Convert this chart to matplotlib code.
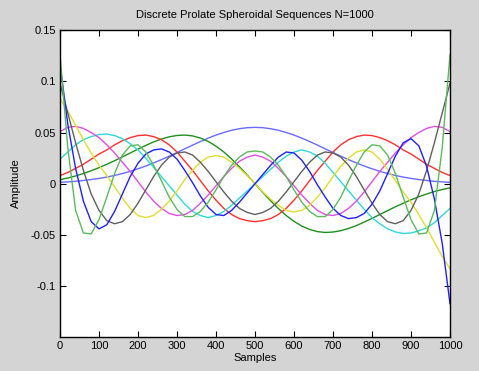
import matplotlib
matplotlib.use('Agg')
import matplotlib.pyplot as plt

# sample positions (every 20 samples, N=1000)
SAMPLES = list(range(0, 1001, 20))

# values, one list per sequence (k = 0..8)
SEQ0 = [0.0014, 0.0018, 0.0024, 0.0032, 0.0041, 0.0052, 0.0065, 0.0081, 0.0100, 0.0121, 0.0146, 0.0173, 0.0203,
        0.0235, 0.0269, 0.0305, 0.0341, 0.0377, 0.0412, 0.0445, 0.0475, 0.0500, 0.0522, 0.0537, 0.0547, 0.0550,
        0.0547, 0.0537, 0.0522, 0.0500, 0.0475, 0.0445, 0.0412, 0.0377, 0.0341, 0.0305, 0.0269, 0.0235, 0.0203,
        0.0173, 0.0146, 0.0121, 0.0100, 0.0081, 0.0065, 0.0052, 0.0041, 0.0032, 0.0024, 0.0018, 0.0014]
SEQ1 = [0.0040, 0.0056, 0.0076, 0.0100, 0.0127, 0.0157, 0.0190, 0.0225, 0.0262, 0.0300, 0.0338, 0.0374, 0.0408,
        0.0436, 0.0458, 0.0471, 0.0475, 0.0467, 0.0446, 0.0413, 0.0367, 0.0310, 0.0242, 0.0166, 0.0085, 0.0,
        -0.0085, -0.0166, -0.0242, -0.0310, -0.0367, -0.0413, -0.0446, -0.0467, -0.0475, -0.0471, -0.0458, -0.0436,
        -0.0408, -0.0374, -0.0338, -0.0300, -0.0262, -0.0225, -0.0190, -0.0157, -0.0127, -0.0100, -0.0076, -0.0056,
        -0.0040]
SEQ2 = [0.008, 0.011, 0.015, 0.019, 0.024, 0.029, 0.033, 0.038, 0.042, 0.045, 0.047, 0.0475, 0.046, 0.043, 0.038,
        0.031, 0.022, 0.013, 0.003, -0.007, -0.016, -0.024, -0.030, -0.034, -0.036, -0.037,
        -0.036, -0.034, -0.030, -0.024, -0.016, -0.007, 0.003, 0.013, 0.022, 0.031, 0.038, 0.043, 0.046, 0.0475,
        0.047, 0.045, 0.042, 0.038, 0.033, 0.029, 0.024, 0.019, 0.015, 0.011, 0.008]
SEQ3 = [0.024, 0.031, 0.038, 0.043, 0.046, 0.048, 0.0485, 0.047, 0.044, 0.039, 0.033, 0.025, 0.016, 0.007, -0.002,
        -0.011, -0.020, -0.027, -0.031, -0.033, -0.031, -0.027, -0.021, -0.014, -0.007, 0.0,
        0.007, 0.014, 0.021, 0.027, 0.031, 0.033, 0.031, 0.027, 0.020, 0.011, 0.002, -0.007, -0.016, -0.025, -0.033,
        -0.039, -0.044, -0.047, -0.0485, -0.048, -0.046, -0.043, -0.038, -0.031, -0.024]
SEQ4 = [0.051, 0.055, 0.056, 0.054, 0.050, 0.045, 0.038, 0.030, 0.021, 0.012, 0.002, -0.008, -0.017, -0.024, -0.029,
        -0.031, -0.030, -0.026, -0.019, -0.011, -0.002, 0.007, 0.015, 0.022, 0.026, 0.028,
        0.026, 0.022, 0.015, 0.007, -0.002, -0.011, -0.019, -0.026, -0.030, -0.031, -0.029, -0.024, -0.017, -0.008,
        0.002, 0.012, 0.021, 0.030, 0.038, 0.045, 0.050, 0.054, 0.056, 0.055, 0.051]
SEQ5 = [0.083, 0.071, 0.057, 0.043, 0.030, 0.018, 0.008, -0.003, -0.014, -0.024, -0.031, -0.033, -0.031, -0.025,
        -0.017, -0.007, 0.004, 0.013, 0.021, 0.026, 0.0275, 0.026, 0.021, 0.015, 0.008, 0.0,
        -0.008, -0.015, -0.021, -0.026, -0.0275, -0.026, -0.021, -0.013, -0.004, 0.007, 0.017, 0.025, 0.031, 0.033,
        0.031, 0.024, 0.014, 0.003, -0.008, -0.018, -0.030, -0.043, -0.057, -0.071, -0.083]
SEQ6 = [0.098, 0.069, 0.040, 0.013, -0.010, -0.026, -0.036, -0.039, -0.037, -0.030, -0.019, -0.006, 0.007, 0.018,
        0.026, 0.030, 0.031, 0.028, 0.021, 0.012, 0.002, -0.008, -0.017, -0.024, -0.028, -0.030,
        -0.028, -0.024, -0.017, -0.008, 0.002, 0.012, 0.021, 0.028, 0.031, 0.030, 0.026, 0.018, 0.007, -0.006, -0.019,
        -0.030, -0.037, -0.039, -0.036, -0.026, -0.010, 0.013, 0.040, 0.069, 0.098]
SEQ7 = [0.117, 0.058, 0.015, -0.017, -0.037, -0.044, -0.040, -0.027, -0.010, 0.007, 0.020, 0.029, 0.033, 0.034,
        0.031, 0.024, 0.013, 0.001, -0.012, -0.023, -0.030, -0.031, -0.026, -0.018, -0.009, 0.0,
        0.009, 0.018, 0.026, 0.031, 0.030, 0.023, 0.012, -0.001, -0.013, -0.024, -0.031, -0.034, -0.033, -0.029,
        -0.020, -0.007, 0.010, 0.027, 0.040, 0.044, 0.037, 0.017, -0.015, -0.058, -0.117]
SEQ8 = [0.126, 0.035, -0.026, -0.048, -0.049, -0.035, -0.013, 0.010, 0.028, 0.037, 0.038, 0.031, 0.018, 0.003,
        -0.013, -0.025, -0.032, -0.032, -0.027, -0.018, -0.006, 0.007, 0.018, 0.026, 0.031, 0.032,
        0.031, 0.026, 0.018, 0.007, -0.006, -0.018, -0.027, -0.032, -0.032, -0.025, -0.013, 0.003, 0.018, 0.031,
        0.038, 0.037, 0.028, 0.010, -0.013, -0.035, -0.049, -0.048, -0.026, 0.035, 0.126]

SEQS = [SEQ0, SEQ1, SEQ2, SEQ3, SEQ4, SEQ5, SEQ6, SEQ7, SEQ8]
COLORS = ['#6a6aff', '#1f8f1f', '#ff3030', '#30d8d8', '#e050e0', '#dede30', '#606060', '#2020ff', '#5cba5c']

XTICKS = list(range(0, 1001, 100))
YTICKS = [-0.1, -0.05, 0, 0.05, 0.1, 0.15]
YTICKLABELS = ['-0.1', '-0.05', '0', '0.05', '0.1', '0.15']

plt.rcParams['font.family'] = ['Liberation Sans', 'DejaVu Sans']

fig = plt.figure(figsize=(4.79, 3.71), dpi=100, facecolor='#d4d4d4')
ax = fig.add_axes([60/479, 1 - 337/371, 390/479, 307/371])
ax.set_facecolor('white')

for seq, col in zip(SEQS, COLORS):
    ax.plot(SAMPLES, seq, color=col, linewidth=1.0)

ax.set_xlim(0, 1000)
ax.set_ylim(-0.1495, 0.15)
ax.set_xticks(XTICKS)
ax.set_yticks(YTICKS)
ax.set_yticklabels(YTICKLABELS)
ax.tick_params(direction='in', length=4, width=0.8, top=True, right=True, labelsize=8, colors='black', pad=3)
for sp in ax.spines.values():
    sp.set_linewidth(1.0)

ax.set_title('Discrete Prolate Spheroidal Sequences N=1000', fontsize=8, pad=9)
ax.set_xlabel('Samples', fontsize=8, labelpad=1)
ax.set_ylabel('Amplitude', fontsize=8, labelpad=7)

fig.savefig('out.png', dpi=100, facecolor=fig.get_facecolor())
